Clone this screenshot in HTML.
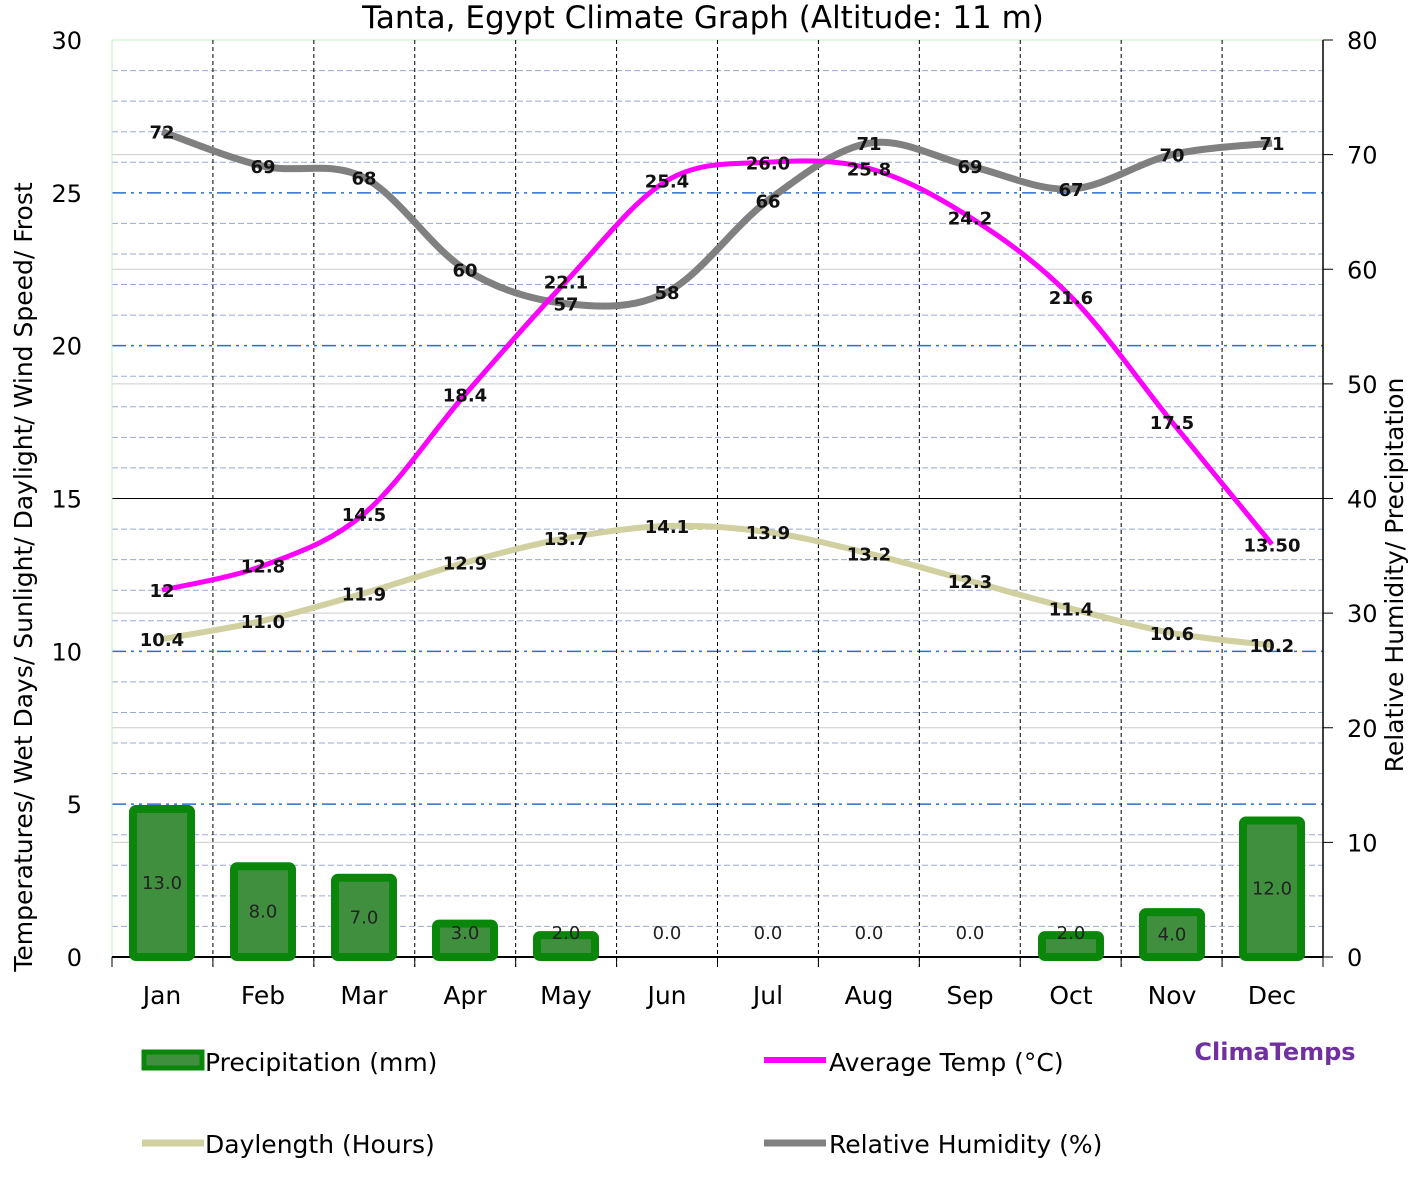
<!DOCTYPE html><html><head><meta charset="utf-8"><style>body{margin:0;background:#fff}svg{display:block}text{font-family:"DejaVu Sans","Liberation Sans",sans-serif}</style></head><body>
<svg id="s" width="1418" height="1192" xmlns="http://www.w3.org/2000/svg"></svg>
<script>
const s=document.getElementById('s');let h='';
const X0=112,X1=1323,Y0=957,Y1=40,ly=v=>Y0-v*(Y0-Y1)/30,ry=v=>Y0-v*(Y0-Y1)/80;
const cx=[162,263,364,465,566,667,768,869,970,1071,1172,1272];
for(let v=1;v<30;v++){if(v%5==0)continue;h+=`<line x1="${X0}" x2="${X1}" y1="${ly(v)}" y2="${ly(v)}" stroke="#9aa8d8" stroke-width="1" stroke-dasharray="6,3"/>`}
for(let v=10;v<80;v+=10)h+=`<line x1="${X0}" x2="${X1}" y1="${ry(v)}" y2="${ry(v)}" stroke="#ccc" stroke-width="1"/>`;
[5,10,20,25].forEach(v=>h+=`<line x1="${X0}" x2="${X1}" y1="${ly(v)}" y2="${ly(v)}" stroke="#2a6fd0" stroke-width="1.5" stroke-dasharray="14,5,3,5,3,5"/>`);
h+=`<line x1="${X0}" x2="${X1}" y1="${ly(15)}" y2="${ly(15)}" stroke="#000" stroke-width="1"/>`;
h+=`<line x1="${X0}" x2="${X1}" y1="${Y1}" y2="${Y1}" stroke="#bfefbf"/><line x1="${X0}" x2="${X0}" y1="${Y1}" y2="${Y0}" stroke="#bfefbf"/>`;
for(let i=1;i<12;i++){let x=X0+i*(X1-X0)/12;h+=`<line x1="${x}" x2="${x}" y1="${Y1}" y2="${Y0+10}" stroke="#000" stroke-dasharray="4,3"/>`}
h+=`<line x1="${X0}" x2="${X1}" y1="${Y0}" y2="${Y0}" stroke="#000" stroke-width="2"/><line x1="${X1}" x2="${X1}" y1="${Y1}" y2="${Y0}" stroke="#000" stroke-width="1.5"/>`;
for(let i=0;i<=12;i++){let x=X0+i*(X1-X0)/12;h+=`<line x1="${x}" x2="${x}" y1="${Y0}" y2="${Y0+10}" stroke="#000"/>`}
for(let v=0;v<=30;v+=5)h+=`<text x="82" y="${ly(v)+9}" font-size="24" text-anchor="end">${v}</text>`;
for(let v=0;v<=80;v+=10){h+=`<line x1="${X1}" x2="${X1+10}" y1="${ry(v)}" y2="${ry(v)}" stroke="#000"/><text x="1347" y="${ry(v)+9}" font-size="24">${v}</text>`}
const mn=['Jan','Feb','Mar','Apr','May','Jun','Jul','Aug','Sep','Oct','Nov','Dec'];
mn.forEach((m,i)=>h+=`<text x="${cx[i]}" y="1004" font-size="25" text-anchor="middle">${m}</text>`);
const pr=[13,8,7,3,2,0,0,0,0,2,4,12];
pr.forEach((p,i)=>{let y=ry(p)-3;if(p>0)h+=`<rect x="${cx[i]-29}" y="${y+4}" width="58" height="${Y0-y-4}" fill="#3f8f3f" stroke="#0a870a" stroke-width="8" rx="3"/>`;h+=`<text x="${cx[i]}" y="${p>3?(y+Y0)/2+8:939}" font-size="18" text-anchor="middle" fill="#222">${p.toFixed(1)}</text>`});
function path(pts){let d=`M${pts[0][0]},${pts[0][1]}`;for(let i=0;i<pts.length-1;i++){let p0=pts[Math.max(i-1,0)],p1=pts[i],p2=pts[i+1],p3=pts[Math.min(i+2,pts.length-1)];d+=` C${p1[0]+(p2[0]-p0[0])/6},${p1[1]+(p2[1]-p0[1])/6} ${p2[0]-(p3[0]-p1[0])/6},${p2[1]-(p3[1]-p1[1])/6} ${p2[0]},${p2[1]}`}return d}
const dl=[10.4,11,11.9,12.9,13.7,14.1,13.9,13.2,12.3,11.4,10.6,10.2];
const tp=[12,12.8,14.5,18.4,22.1,25.4,26,25.8,24.2,21.6,17.5,13.5];
const hu=[72,69,68,60,57,58,66,71,69,67,70,71];
h+=`<path d="${path(dl.map((v,i)=>[cx[i],ly(v)]))}" fill="none" stroke="#d0d0a0" stroke-width="6"/>`;
h+=`<path d="${path(hu.map((v,i)=>[cx[i],ry(v)]))}" fill="none" stroke="#808080" stroke-width="7"/>`;
h+=`<path d="${path(tp.map((v,i)=>[cx[i],ly(v)]))}" fill="none" stroke="#ff00ff" stroke-width="5"/>`;
const lab=(x,y,t)=>h+=`<text x="${x}" y="${y}" font-size="18" font-weight="bold" text-anchor="middle" fill="#111">${t}</text>`;
dl.forEach((v,i)=>lab(cx[i],ly(v)+7,v.toFixed(1)));
tp.forEach((v,i)=>lab(cx[i],ly(v)+7,i==0?'12':i==11?'13.50':v.toFixed(1)));
hu.forEach((v,i)=>lab(cx[i],ry(v)+7,v));
h+=`<text x="703" y="28" font-size="31" text-anchor="middle">Tanta, Egypt Climate Graph (Altitude: 11 m)</text>`;
h+=`<text transform="translate(32,577) rotate(-90)" font-size="25" text-anchor="middle">Temperatures/ Wet Days/ Sunlight/ Daylight/ Wind Speed/ Frost</text>`;
h+=`<text transform="translate(1403,575) rotate(-90)" font-size="25" text-anchor="middle">Relative Humidity/ Precipitation</text>`;
h+=`<rect x="144" y="1052" width="58" height="16" fill="#3f8f3f" stroke="#0a870a" stroke-width="5"/><text x="205" y="1071" font-size="25">Precipitation (mm)</text>`;
h+=`<line x1="764" x2="826" y1="1060" y2="1060" stroke="#ff00ff" stroke-width="6"/><text x="829" y="1071" font-size="25">Average Temp (°C)</text>`;
h+=`<line x1="142" x2="204" y1="1143" y2="1143" stroke="#d0d0a0" stroke-width="7"/><text x="205" y="1153" font-size="25">Daylength (Hours)</text>`;
h+=`<line x1="764" x2="826" y1="1143" y2="1143" stroke="#808080" stroke-width="7"/><text x="829" y="1153" font-size="25">Relative Humidity (%)</text>`;
h+=`<text x="1275" y="1060" font-size="24" font-weight="bold" fill="#7030a0" text-anchor="middle">ClimaTemps</text>`;
s.innerHTML=h;
</script></body></html>
